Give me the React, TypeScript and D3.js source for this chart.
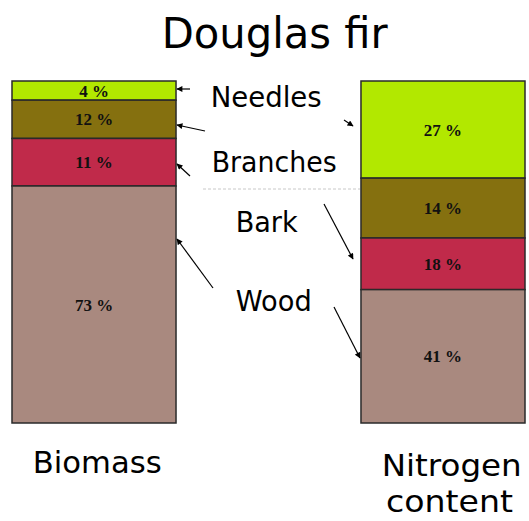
import React from "react";
import * as d3 from "d3";

const parts = ["Needles", "Branches", "Bark", "Wood"];
const columns = ["Biomass", "Nitrogen content"];
// segment shares as drawn (top to bottom)
const biomassShare = [5.6, 11.2, 13.9, 69.3];
const nitrogenShare = [28.4, 17.5, 15.1, 39.0];
// printed labels
const biomassLabel = ["4 %", "12 %", "11 %", "73 %"];
const nitrogenLabel = ["27 %", "14 %", "18 %", "41 %"];
const partColors = ["#b2e800", "#85700f", "#c02a4a", "#a9897f"];

const W = 529;
const H = 521;

export default function App() {
  const x = d3.scaleBand<string>().domain(columns).range([12, 525]).paddingInner(0.53).paddingOuter(0);
  const y = d3.scaleLinear().domain([0, 100]).range([81, 423]);
  const color = d3.scaleOrdinal<string, string>().domain(parts).range(partColors);

  const series = [
    { col: columns[0], shares: biomassShare, labels: biomassLabel },
    { col: columns[1], shares: nitrogenShare, labels: nitrogenLabel },
  ];

  const sans = "'DejaVu Sans', Verdana, sans-serif";

  const arrows: [number, number, number, number][] = [
    [190, 89, 177, 89],
    [205, 131, 177, 125],
    [190, 176, 177, 164],
    [213, 288, 177, 239],
    [344, 120, 353, 126],
    [324, 204, 353, 259],
    [334, 307, 360, 358],
  ];

  return (
    <svg width={W} height={H} style={{ position: "absolute", left: 0, top: 0, background: "#fff" }}>
      <defs>
        <marker id="ah" viewBox="0 0 10 10" refX="9" refY="5" markerWidth="8" markerHeight="6" orient="auto" markerUnits="userSpaceOnUse">
          <path d="M0,0 L10,5 L0,10 Z" fill="#000" />
        </marker>
      </defs>
      <rect width={W} height={H} fill="#fff" />
      <text x={161.7} y={48} fontFamily={sans} fontSize={43} textLength={226} lengthAdjust="spacingAndGlyphs" fill="#000">
        Douglas fir
      </text>

      {series.map((s) => {
        const cum = d3.cumsum(s.shares);
        const x0 = x(s.col)!;
        const bw = x.bandwidth();
        return (
          <g key={s.col}>
            {s.shares.map((v, i) => {
              const top = y(cum[i] - v);
              const bot = y(cum[i]);
              return (
                <g key={i}>
                  <rect x={x0} y={top} width={bw} height={bot - top} fill={color(parts[i])} stroke="#2a2a2a" strokeWidth={1.5} />
                  <text
                    x={x0 + bw / 2}
                    y={(top + bot) / 2}
                    dy="0.36em"
                    textAnchor="middle"
                    fontFamily="'Liberation Serif', 'Times New Roman', serif"
                    fontWeight="bold"
                    fontSize={17}
                    fill="#111"
                  >
                    {s.labels[i]}
                  </text>
                </g>
              );
            })}
          </g>
        );
      })}

      {/* faint artifact dashed line */}
      <line x1={203} y1={189} x2={360} y2={189} stroke="#c8c8c8" strokeWidth={1} strokeDasharray="3,2" />

      {arrows.map((a, i) => (
        <line key={i} x1={a[0]} y1={a[1]} x2={a[2]} y2={a[3]} stroke="#000" strokeWidth={1.2} markerEnd="url(#ah)" />
      ))}

      <text x={210.7} y={106.7} fontFamily={sans} fontSize={29} textLength={111} lengthAdjust="spacingAndGlyphs">{parts[0]}</text>
      <text x={211.7} y={171.7} fontFamily={sans} fontSize={29} textLength={125} lengthAdjust="spacingAndGlyphs">{parts[1]}</text>
      <text x={235.7} y={232} fontFamily={sans} fontSize={29} textLength={62} lengthAdjust="spacingAndGlyphs">{parts[2]}</text>
      <text x={235.7} y={310.7} fontFamily={sans} fontSize={29} textLength={76} lengthAdjust="spacingAndGlyphs">{parts[3]}</text>

      <text x={32.7} y={473} fontFamily={sans} fontSize={31} textLength={129} lengthAdjust="spacingAndGlyphs">{columns[0]}</text>
      <text x={381.7} y={476} fontFamily={sans} fontSize={31} textLength={140} lengthAdjust="spacingAndGlyphs">Nitrogen</text>
      <text x={386} y={512} fontFamily={sans} fontSize={31} textLength={127} lengthAdjust="spacingAndGlyphs">content</text>
    </svg>
  );
}
